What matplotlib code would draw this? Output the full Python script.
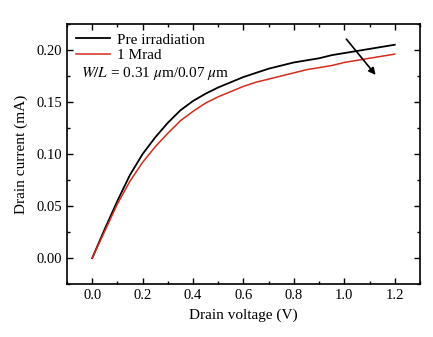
import matplotlib
matplotlib.use("Agg")
import matplotlib.pyplot as plt
from matplotlib.ticker import MultipleLocator, FormatStrFormatter

plt.rcParams['font.family'] = ['Liberation Serif', 'DejaVu Serif']
plt.rcParams['mathtext.fontset'] = 'stix'

voltage = [0.0, 0.05, 0.1, 0.15, 0.2, 0.25, 0.3, 0.35, 0.4, 0.45, 0.5, 0.55, 0.6,
           0.65, 0.7, 0.75, 0.8, 0.85, 0.9, 0.95, 1.0, 1.05, 1.1, 1.15, 1.2]
pre_irradiation = [0.0, 0.028, 0.055, 0.080, 0.100, 0.116, 0.130, 0.142, 0.151, 0.158,
                   0.164, 0.169, 0.174, 0.178, 0.182, 0.185, 0.188, 0.190, 0.192, 0.195,
                   0.197, 0.199, 0.201, 0.203, 0.205]
mrad_1 = [0.0, 0.026, 0.052, 0.074, 0.092, 0.107, 0.120, 0.132, 0.141, 0.149,
          0.155, 0.160, 0.165, 0.169, 0.172, 0.175, 0.178, 0.181, 0.183, 0.185,
          0.188, 0.190, 0.192, 0.194, 0.196]
labels = ["Pre irradiation", "1 Mrad"]

fig = plt.figure(figsize=(4.33, 3.37), dpi=100)
ax = fig.add_axes([0.1547, 0.157, 0.8153, 0.772])

ax.plot(voltage, pre_irradiation, color='black', lw=1.3, label=labels[0])
ax.plot(voltage, mrad_1, color='#d42b1c', lw=1.1, label=labels[1])

ax.set_xlim(-0.1, 1.3)
ax.set_ylim(-0.025, 0.225)
ax.xaxis.set_major_locator(MultipleLocator(0.2))
ax.xaxis.set_minor_locator(MultipleLocator(0.1))
ax.yaxis.set_major_locator(MultipleLocator(0.05))
ax.yaxis.set_minor_locator(MultipleLocator(0.025))
ax.xaxis.set_major_formatter(FormatStrFormatter('%.1f'))
ax.yaxis.set_major_formatter(FormatStrFormatter('%.2f'))
ax.tick_params(which='both', direction='in', top=True, right=True, labelsize=10.5)
ax.tick_params(which='major', length=4, width=1)
ax.tick_params(which='minor', length=2.5, width=1)
for s in ax.spines.values():
    s.set_linewidth(1.2)

ax.set_xlabel("Drain voltage (V)", fontsize=11, labelpad=5)
ax.set_ylabel("Drain current (mA)", fontsize=11, labelpad=6)

ax.legend(loc='upper left', frameon=False, fontsize=11, handlelength=2.2,
          handletextpad=0.5, borderaxespad=0.2, labelspacing=0.1)
ax.text(0.04, 0.81, "$W/L$ = 0.31 $\\mu$m/0.07 $\\mu$m", transform=ax.transAxes,
        fontsize=11, va='center', ha='left')

ax.annotate("", xy=(1.124, 0.176), xytext=(1.008, 0.2104),
            arrowprops=dict(arrowstyle='-|>', color='black', lw=1.2,
                            mutation_scale=10, shrinkA=0, shrinkB=0))

fig.savefig("out.png", dpi=100)
